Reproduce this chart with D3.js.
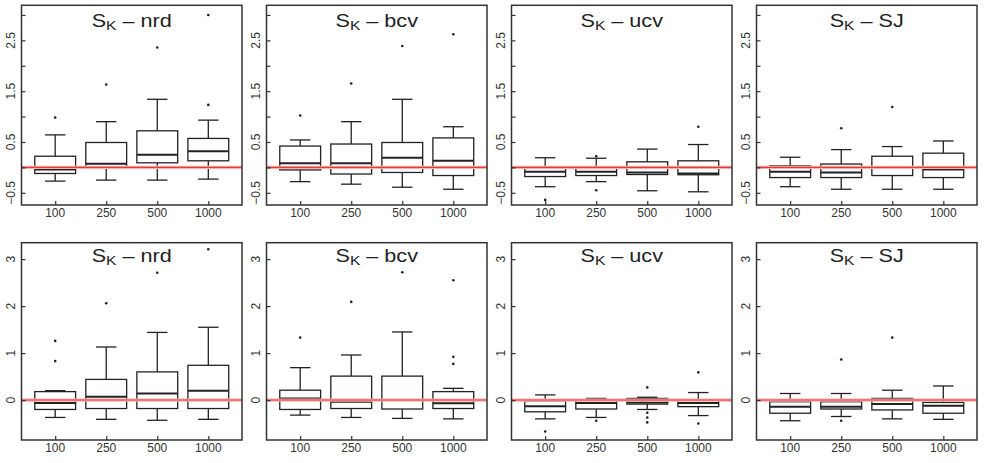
<!DOCTYPE html>
<html>
<head>
<meta charset="utf-8">
<script src="https://cdn.jsdelivr.net/npm/d3@7"></script>
<style>
  body { margin: 0; background: #fff; }
  svg text { font-family: "Liberation Sans", Arial, sans-serif; fill: #222; }
</style>
</head>
<body>
<div id="chart"></div>
<script>
// sample sizes on the x axis, methods across the columns
var sampleSizes = ["100", "250", "500", "1000"];
var methods = ["nrd", "bcv", "ucv", "SJ"];

// tick values for each row (labels R kept vs. plain ticks)
var topTicks = [-0.5, 0, 0.5, 1, 1.5, 2, 2.5, 3];
var topTickLabels = [-0.5, 0.5, 1.5, 2.5];
var bottomTicks = [0, 1, 2, 3];
var bottomTickLabels = [0, 1, 2, 3];

// box stats: [lower whisker, q1, median, q3, upper whisker]
var topNrd = [[-0.27, -0.12, -0.04, 0.22, 0.64], [-0.25, -0.02, 0.07, 0.49, 0.90], [-0.25, 0.09, 0.25, 0.72, 1.34], [-0.23, 0.13, 0.32, 0.57, 0.93]];
var topNrdOut = [[0.98], [1.63], [2.36], [1.23, 3.0]];
var topBcv = [[-0.28, -0.05, 0.08, 0.42, 0.54], [-0.33, -0.13, 0.08, 0.46, 0.90], [-0.39, -0.10, 0.19, 0.49, 1.34], [-0.43, -0.16, 0.13, 0.58, 0.80]];
var topBcvOut = [[1.02], [1.65], [2.39], [2.62]];
var topUcv = [[-0.38, -0.18, -0.085, -0.01, 0.19], [-0.28, -0.16, -0.085, -0.02, 0.18], [-0.46, -0.14, -0.10, 0.11, 0.36], [-0.48, -0.145, -0.12, 0.13, 0.45]];
var topUcvOut = [[-0.64], [-0.45, 0.22], [], [0.80]];
var topSj = [[-0.38, -0.20, -0.085, 0.03, 0.20], [-0.43, -0.20, -0.10, 0.066, 0.35], [-0.43, -0.16, 0.0, 0.22, 0.41], [-0.43, -0.20, -0.04, 0.28, 0.52]];
var topSjOut = [[], [0.77], [1.19], []];

var bottomNrd = [[-0.37, -0.20, -0.06, 0.18, 0.20], [-0.41, -0.18, 0.07, 0.44, 1.13], [-0.43, -0.18, 0.14, 0.60, 1.44], [-0.41, -0.18, 0.20, 0.74, 1.55]];
var bottomNrdOut = [[0.83, 1.26], [2.06], [2.71], [3.21]];
var bottomBcv = [[-0.32, -0.20, 0.035, 0.21, 0.69], [-0.37, -0.18, -0.035, 0.51, 0.96], [-0.39, -0.19, 0.0, 0.51, 1.45], [-0.40, -0.18, -0.07, 0.18, 0.25]];
var bottomBcvOut = [[1.33], [2.09], [2.72], [0.77, 0.92, 2.55]];
var bottomUcv = [[-0.40, -0.25, -0.13, -0.02, 0.11], [-0.37, -0.19, -0.06, 0.01, 0.035], [-0.20, -0.085, -0.05, 0.035, 0.06], [-0.33, -0.14, -0.06, 0.0, 0.16]];
var bottomUcvOut = [[-0.67], [-0.44], [-0.475, -0.37, -0.27, 0.27], [-0.50, 0.59]];
var bottomSj = [[-0.44, -0.28, -0.14, -0.035, 0.14], [-0.35, -0.19, -0.14, -0.035, 0.14], [-0.40, -0.21, -0.085, 0.035, 0.21], [-0.41, -0.28, -0.12, -0.05, 0.30]];
var bottomSjOut = [[], [-0.44, 0.865], [1.33], []];

var rows = [
  { top: 5.3, bottom: 205, domain: [-0.74, 3.19], ticks: topTicks, labels: topTickLabels,
    stats: [topNrd, topBcv, topUcv, topSj], outs: [topNrdOut, topBcvOut, topUcvOut, topSjOut], titleY: 21.4 },
  { top: 242.7, bottom: 440, domain: [-0.85, 3.35], ticks: bottomTicks, labels: bottomTickLabels,
    stats: [bottomNrd, bottomBcv, bottomUcv, bottomSj], outs: [bottomNrdOut, bottomBcvOut, bottomUcvOut, bottomSjOut], titleY: 19.5 }
];

var width = 985, height = 463;
var panelLeft = 21.5, panelWidth = 220.5, panelStep = 245;
var tickLen = 4;
var titleStretch = 1.2; // the reference titles are drawn wider than the font's natural width

var svg = d3.select("#chart").append("svg")
  .attr("width", width)
  .attr("height", height);

rows.forEach(function(row) {
  methods.forEach(function(method, m) {
    var x0 = panelLeft + m * panelStep;
    var x1 = x0 + panelWidth;

    var xScale = d3.scaleLinear().domain([0.34, 4.66]).range([x0, x1]);
    var yScale = d3.scaleLinear().domain(row.domain).range([row.bottom, row.top]);

    var g = svg.append("g");

    // boxes
    var boxW = xScale(0.4) - xScale(0);
    var stapleW = xScale(0.2) - xScale(0);
    var data = row.stats[m].map(function(s, i) {
      return { pos: i + 1, s: s, out: row.outs[m][i] };
    });

    var box = g.selectAll("g.box").data(data).enter().append("g").attr("class", "box");

    box.append("line")
      .attr("x1", d => xScale(d.pos)).attr("x2", d => xScale(d.pos))
      .attr("y1", d => yScale(d.s[0])).attr("y2", d => yScale(d.s[1]))
      .attr("stroke", "#222").attr("stroke-width", 1.3);
    box.append("line")
      .attr("x1", d => xScale(d.pos)).attr("x2", d => xScale(d.pos))
      .attr("y1", d => yScale(d.s[3])).attr("y2", d => yScale(d.s[4]))
      .attr("stroke", "#222").attr("stroke-width", 1.3);
    [0, 4].forEach(function(k) {
      box.append("line")
        .attr("x1", d => xScale(d.pos) - stapleW).attr("x2", d => xScale(d.pos) + stapleW)
        .attr("y1", d => yScale(d.s[k])).attr("y2", d => yScale(d.s[k]))
        .attr("stroke", "#222").attr("stroke-width", 1.3);
    });
    box.append("rect")
      .attr("x", d => xScale(d.pos) - boxW)
      .attr("width", 2 * boxW)
      .attr("y", d => yScale(d.s[3]))
      .attr("height", d => yScale(d.s[1]) - yScale(d.s[3]))
      .attr("fill", "none").attr("stroke", "#222").attr("stroke-width", 1.3);
    box.append("line")
      .attr("x1", d => xScale(d.pos) - boxW).attr("x2", d => xScale(d.pos) + boxW)
      .attr("y1", d => yScale(d.s[2])).attr("y2", d => yScale(d.s[2]))
      .attr("stroke", "#222").attr("stroke-width", 2);

    // outliers
    box.selectAll("circle").data(d => d.out.map(v => ({ pos: d.pos, v: v }))).enter()
      .append("circle")
      .attr("cx", d => xScale(d.pos))
      .attr("cy", d => yScale(d.v))
      .attr("r", 1.3)
      .attr("fill", "#222");

    // reference line at zero
    g.append("line")
      .attr("x1", x0).attr("x2", x1)
      .attr("y1", yScale(0)).attr("y2", yScale(0))
      .attr("stroke", "#f7b0b0").attr("stroke-width", 3.2);
    g.append("line")
      .attr("x1", x0).attr("x2", x1)
      .attr("y1", yScale(0)).attr("y2", yScale(0))
      .attr("stroke", "#e43a3a").attr("stroke-width", 1.1);

    // frame
    g.append("rect")
      .attr("x", x0).attr("y", row.top)
      .attr("width", panelWidth).attr("height", row.bottom - row.top)
      .attr("fill", "none").attr("stroke", "#333").attr("stroke-width", 1.5);

    // y axis, ticks inward
    var yAxis = d3.axisRight(yScale).tickValues(row.ticks).tickSize(tickLen).tickFormat("");
    var ya = g.append("g").attr("transform", "translate(" + x0 + ",0)").call(yAxis);
    ya.select(".domain").remove();
    ya.selectAll("line").attr("stroke", "#333").attr("stroke-width", 1.2);

    g.selectAll("text.ylab").data(row.labels).enter().append("text")
      .attr("class", "ylab")
      .attr("transform", d => "translate(" + (x0 - 6.5) + "," + yScale(d) + ") rotate(-90)")
      .attr("text-anchor", "middle")
      .style("font-size", "12px")
      .style("fill", "#333")
      .text(d => d3.format("")(d).replace("-", "\u2212"));

    // x axis, ticks inward
    var xAxis = d3.axisTop(xScale).tickValues([1, 2, 3, 4]).tickSize(tickLen).tickFormat("");
    var xa = g.append("g").attr("transform", "translate(0," + row.bottom + ")").call(xAxis);
    xa.select(".domain").remove();
    xa.selectAll("line").attr("stroke", "#333").attr("stroke-width", 1.2);

    g.selectAll("text.xlab").data(sampleSizes).enter().append("text")
      .attr("class", "xlab")
      .attr("x", (d, i) => xScale(i + 1))
      .attr("y", row.bottom + 11.8)
      .attr("text-anchor", "middle")
      .style("font-size", "12px")
      .style("fill", "#333")
      .text(d => d);

    // title: S_K - method
    var title = g.append("text")
      .attr("x", (x0 + x1) / 2)
      .attr("y", row.top + row.titleY)
      .attr("text-anchor", "middle")
      .style("font-size", "18px");
    title.append("tspan").text("S");
    title.append("tspan").attr("dy", 3).style("font-size", "13px").text("K");
    title.append("tspan").attr("dy", -3).text(" \u2013 " + method);
    var natural = title.node().getComputedTextLength();
    title.attr("textLength", natural * titleStretch).attr("lengthAdjust", "spacingAndGlyphs");
  });
});
</script>
</body>
</html>
